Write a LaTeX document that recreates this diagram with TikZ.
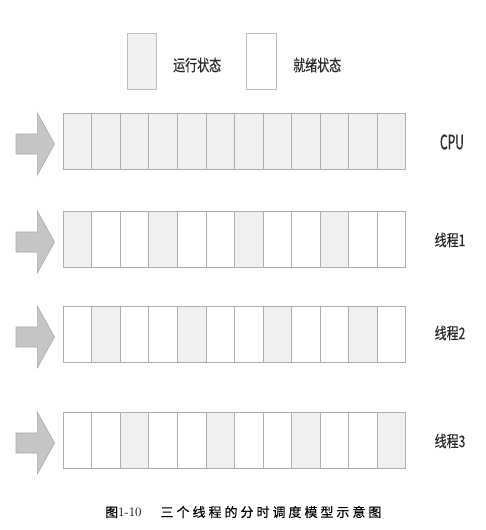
\documentclass[tikz,border=0pt]{standalone}
\usepackage{fontspec}
\newfontfamily\cjklab[FakeStretch=0.75,FakeBold=0.3]{Noto Sans CJK SC}
\newfontfamily\cpulab[FakeStretch=0.6,FakeBold=0.3]{Noto Sans CJK SC}
\newfontfamily\cjkcap[LetterSpace=23,FakeBold=0.3]{Noto Sans CJK SC}
\definecolor{cellgray}{HTML}{ADADAD}
\definecolor{runfill}{HTML}{F0F0F0}
\definecolor{arrowfill}{HTML}{C6C6C6}
\definecolor{arrowdraw}{HTML}{A8A8A8}
\definecolor{txt}{HTML}{2A2A2A}
\tikzset{
  cell/.style={draw=cellgray, line width=0.8pt, minimum width=28.53pt, minimum height=56pt, inner sep=0pt, outer sep=0pt},
  run/.style={fill=runfill},
  ready/.style={fill=white},
  legbox/.style={draw=cellgray!80, line width=0.8pt, minimum width=29.4pt, minimum height=55.7pt, inner sep=0pt},
  lab/.style={text=txt, font=\cjklab\fontsize{16}{18}\selectfont, inner sep=0pt},
  blockarrow/.style={fill=arrowfill, draw=arrowdraw, line width=0.6pt, line join=miter},
}
\begin{document}
\begin{tikzpicture}[x=1pt,y=-1pt]
\useasboundingbox (0,0) rectangle (486,530);
% legend
\node[legbox,run] (legrun) at (142,61.2) {};
\node[lab, anchor=west] (legruntxt) at (173,65) {运行状态};
\node[legbox,ready] (legready) at (261.3,61.2) {};
\node[lab, anchor=west] (legreadytxt) at (293,65) {就绪状态};
% rows
\foreach \r in {0,1,2,3} {
  \pgfmathsetmacro\ty{{113,211,306,412}[\r]}
  \foreach \i in {1,...,12} {
    \pgfmathtruncatemacro\s{(\r==0) || (mod(\i-1,3)==\r-1)}
    \ifnum\s=1 \def\st{run}\else\def\st{ready}\fi
    \node[cell,\st] (c\r-\i) at ({63.3+28.53*\i-14.265}, {\ty+28}) {};
  }
  \pgfmathsetmacro\ay{\ty+31}
  \draw[blockarrow] (16,\ay-10) -- (37.3,\ay-10) -- (37.3,\ay-31) -- (54.5,\ay) -- (37.3,\ay+31) -- (37.3,\ay+10) -- (16,\ay+10) -- cycle;
}
\node[text=txt, inner sep=0pt, font=\cpulab\fontsize{20}{22}\selectfont] (cpu) at (452,142) {CPU};
\node[lab] (t1) at (450,240) {线程1};
\node[lab] (t2) at (450,333) {线程2};
\node[lab] (t3) at (450,441) {线程3};
% caption
\node[text=black, inner sep=0pt, anchor=west, font=\fontsize{13}{15}\selectfont] (caption) at (105,512) {{\cjkcap 图}1-10\hspace{19pt}{\cjkcap 三个线程的分时调度模型示意图}};
\end{tikzpicture}
\end{document}
